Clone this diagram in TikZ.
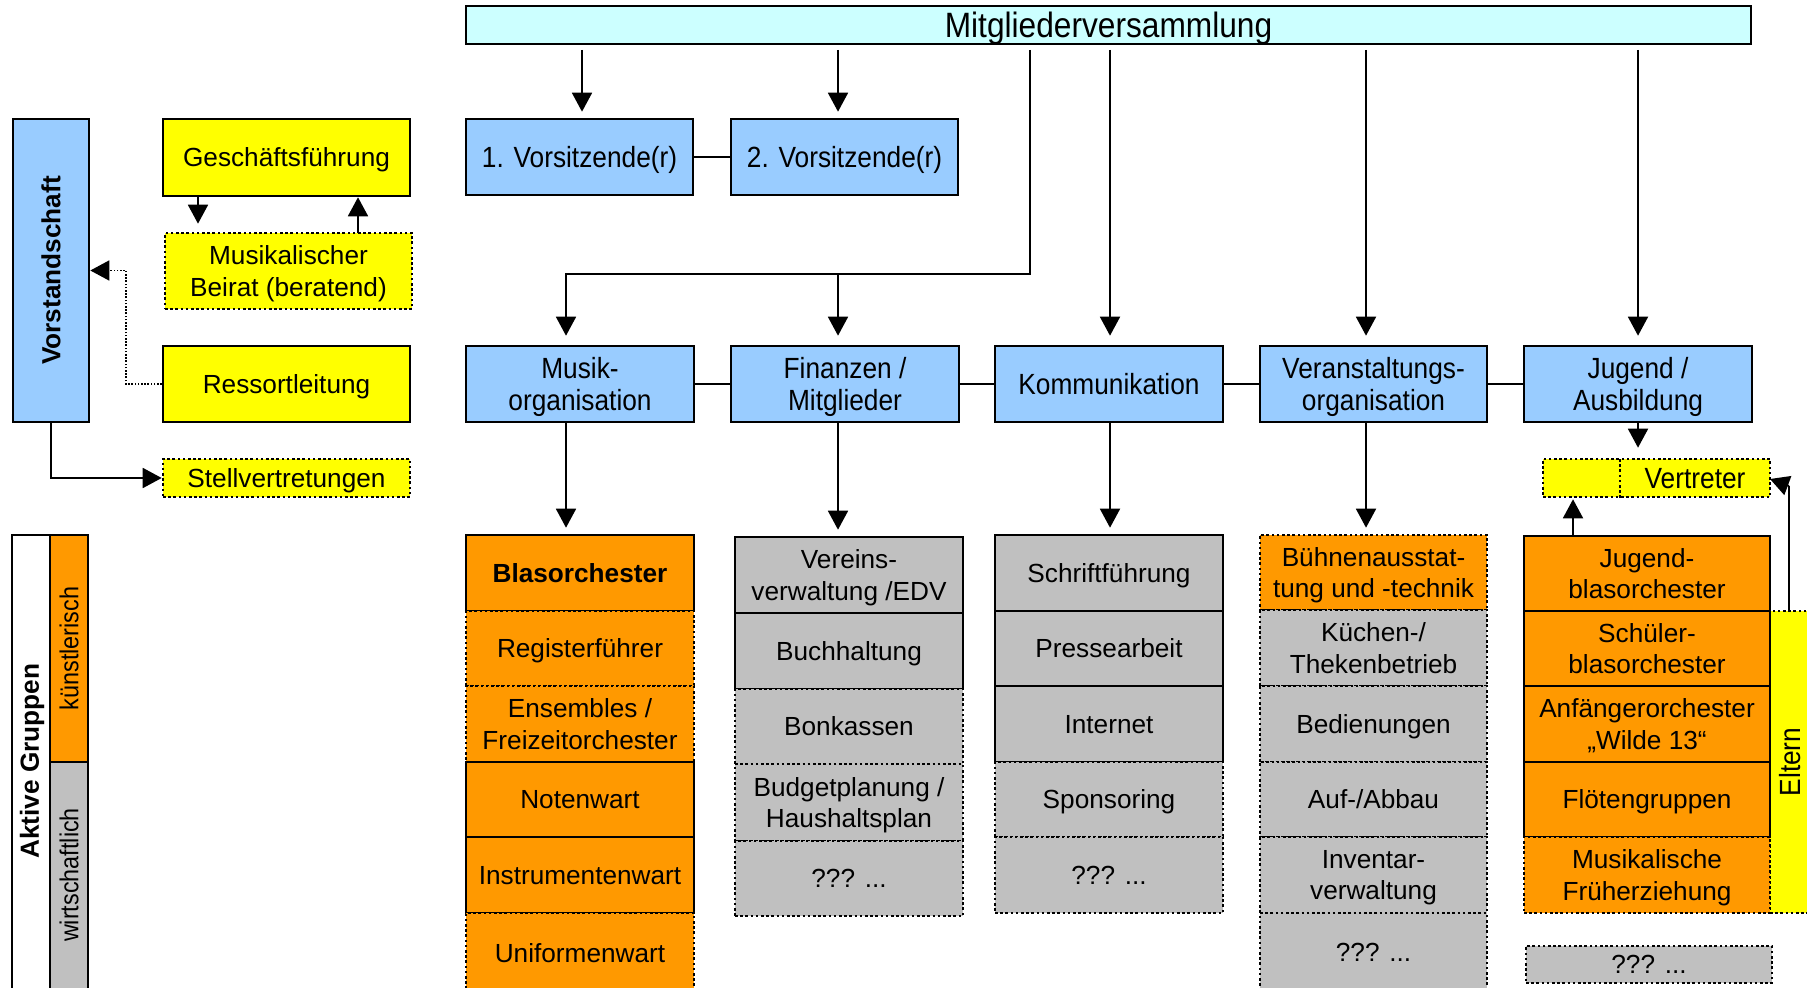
\documentclass[tikz,border=0pt]{standalone}
\usepackage{fontspec}
\setmainfont{Liberation Sans}
\newfontfamily\narrowfont[FakeStretch=0.9]{Liberation Sans}
\usetikzlibrary{arrows.meta}
\definecolor{cBlue}{HTML}{99CCFF}
\definecolor{cCyan}{HTML}{CCFFFF}
\definecolor{cYel}{HTML}{FFFF00}
\definecolor{cOr}{HTML}{FF9900}
\definecolor{cGray}{HTML}{C0C0C0}
\tikzset{
  bx/.style={draw=black, line width=1.3pt, inner sep=0pt, align=center, text depth=0pt,
             font=\fontsize{13.1}{15.65}\selectfont},
  nbx/.style={bx, font=\narrowfont\fontsize{14.6}{16.35}\selectfont},
  dt/.style={dash pattern=on 1.3pt off 1.3pt},
  bfnt/.style={font=\bfseries\fontsize{13.1}{15.65}\selectfont},
  nfnt/.style={font=\narrowfont\fontsize{14.6}{16.35}\selectfont},
  sfnt/.style={font=\narrowfont\fontsize{13}{15}\selectfont},
  ln/.style={line width=0.9pt},
  conn/.style={line width=0.9pt, -{Triangle[width=10pt,length=9.5pt]}},
  dconn/.style={line width=0.8pt, dash pattern=on 0.8pt off 0.8pt, -{Triangle[width=10pt,length=9.5pt]}}
}
\newcommand\rbox[7]{%
  \pgfmathsetmacro\myCx{(#3+#5)/2}\pgfmathsetmacro\myCy{(#4+#6)/2}%
  \pgfmathsetmacro\myWw{(#5-#3)*0.5}\pgfmathsetmacro\myHh{(#6-#4)*0.5}%
  \node[#2, minimum width=\myWw pt, minimum height=\myHh pt] (#1) at (\myCx,\myCy) {#7};}
\begin{document}
\begin{tikzpicture}[x=0.5pt,y=-0.5pt]
\useasboundingbox (0,0) rectangle (1807,988);

% top
\rbox{mv}{bx,fill=cCyan,line width=1pt,font=\narrowfont\fontsize{17.6}{20}\selectfont}{466}{6}{1751}{44}{Mitgliederversammlung}
\rbox{vA}{nbx,fill=cBlue}{466}{119}{693}{195}{1. Vorsitzende(r)}
\rbox{vB}{nbx,fill=cBlue}{731}{119}{958}{195}{2. Vorsitzende(r)}

% row
\rbox{musik}{nbx,fill=cBlue}{466}{346}{694}{422}{Musik-\\organisation}
\rbox{fin}{nbx,fill=cBlue}{731}{346}{959}{422}{Finanzen /\\Mitglieder}
\rbox{kom}{nbx,fill=cBlue}{995}{346}{1223}{422}{Kommunikation}
\rbox{ver}{nbx,fill=cBlue}{1260}{346}{1487}{422}{Veranstaltungs-\\organisation}
\rbox{jug}{nbx,fill=cBlue}{1524}{346}{1752}{422}{Jugend /\\Ausbildung}

% left
\rbox{vorst}{bx,fill=cBlue}{13}{119}{89}{422}{}
\node[rotate=90,bfnt] (vorstT) at (vorst.center) {Vorstandschaft};
\rbox{gf}{bx,fill=cYel}{163}{119}{410}{196}{Geschäftsführung}
\rbox{beirat}{bx,dt,fill=cYel}{165}{233}{412}{309}{Musikalischer\\Beirat (beratend)}
\rbox{ressort}{bx,fill=cYel}{163}{346}{410}{422}{Ressortleitung}
\rbox{stell}{bx,dt,fill=cYel}{163}{459}{410}{497}{Stellvertretungen}

\rbox{aktiv}{bx,line width=1pt,fill=white}{12}{535}{50}{1000}{}
\node[rotate=90,bfnt] (aktivT) at (32,761) {Aktive Gruppen};
\rbox{kuen}{bx,line width=1pt,fill=cOr}{50}{535}{88}{762}{}
\node[rotate=90,sfnt] (kuenT) at (kuen.center) {künstlerisch};
\rbox{wirt}{bx,line width=1pt,fill=cGray}{50}{762}{88}{1000}{}
\node[rotate=90,sfnt] (wirtT) at (69,875) {wirtschaftlich};

% Musik column
\rbox{blas}{bx,fill=cOr,bfnt}{466}{535}{694}{611}{Blasorchester}
\rbox{reg}{bx,dt,fill=cOr}{466}{611}{694}{686}{Registerführer}
\rbox{ens}{bx,dt,fill=cOr}{466}{686}{694}{762}{Ensembles /\\Freizeitorchester}
\rbox{noten}{bx,fill=cOr}{466}{762}{694}{837}{Notenwart}
\rbox{instr}{bx,fill=cOr}{466}{837}{694}{913}{Instrumentenwart}
\rbox{unif}{bx,dt,fill=cOr}{466}{913}{694}{992}{Uniformenwart}

% Finanzen column
\rbox{vereins}{bx,fill=cGray}{735}{537}{963}{613}{Vereins-\\verwaltung /EDV}
\rbox{buch}{bx,fill=cGray}{735}{613}{963}{689}{Buchhaltung}
\rbox{bon}{bx,dt,fill=cGray}{735}{689}{963}{764}{Bonkassen}
\rbox{budget}{bx,dt,fill=cGray}{735}{764}{963}{841}{Budgetplanung /\\Haushaltsplan}
\rbox{finq}{bx,dt,fill=cGray}{735}{841}{963}{916}{??? ...}

% Kommunikation column
\rbox{schrift}{bx,fill=cGray}{995}{535}{1223}{611}{Schriftführung}
\rbox{presse}{bx,fill=cGray}{995}{611}{1223}{686}{Pressearbeit}
\rbox{internet}{bx,fill=cGray}{995}{686}{1223}{762}{Internet}
\rbox{sponsor}{bx,dt,fill=cGray}{995}{762}{1223}{837}{Sponsoring}
\rbox{komq}{bx,dt,fill=cGray}{995}{837}{1223}{913}{??? ...}

% Veranstaltung column
\rbox{buehne}{bx,dt,fill=cOr}{1260}{535}{1487}{610}{Bühnenausstat-\\tung und -technik}
\rbox{kuech}{bx,dt,fill=cGray}{1260}{610}{1487}{686}{Küchen-/\\Thekenbetrieb}
\rbox{bedien}{bx,dt,fill=cGray}{1260}{686}{1487}{762}{Bedienungen}
\rbox{aufab}{bx,dt,fill=cGray}{1260}{762}{1487}{837}{Auf-/Abbau}
\rbox{invent}{bx,dt,fill=cGray}{1260}{837}{1487}{913}{Inventar-\\verwaltung}
\rbox{verq}{bx,dt,fill=cGray}{1260}{913}{1487}{992}{??? ...}

% Jugend column
\rbox{eltern}{bx,dt,fill=cYel}{1770}{611}{1814}{913}{}
\node[rotate=90,nfnt] (elternT) at (1790,762) {Eltern};
\rbox{jbo}{bx,fill=cOr}{1524}{536}{1770}{611}{Jugend-\\blasorchester}
\rbox{sbo}{bx,fill=cOr}{1524}{611}{1770}{686}{Schüler-\\blasorchester}
\rbox{anf}{bx,fill=cOr}{1524}{686}{1770}{762}{Anfängerorchester\\„Wilde 13“}
\rbox{floete}{bx,fill=cOr}{1524}{762}{1770}{837}{Flötengruppen}
\rbox{mfe}{bx,dt,fill=cOr}{1524}{837}{1770}{913}{Musikalische\\Früherziehung}
\rbox{jugq}{bx,dt,fill=cGray}{1526}{946}{1772}{983}{??? ...}

\rbox{vert}{bx,dt,fill=cYel}{1543}{459}{1770}{497}{}
\coordinate (vd1) at (1620,459);
\draw[line width=1.3pt,dt] (vd1) -- (vd1 |- vert.south);
\node[nfnt,text depth=0pt] (vertT) at (1695,478) {Vertreter};

% connectors
\coordinate (m1) at (582,50);
\coordinate (m2) at (838,50);
\coordinate (m3) at (1030,50);
\coordinate (m4) at (1110,50);
\coordinate (m5) at (1366,50);
\coordinate (m6) at (1638,50);
\coordinate (j1) at (1030,274);
\coordinate (j2) at (566,274);

\draw[conn,shorten >=3pt] (m1) -- (m1 |- vA.north);
\draw[conn,shorten >=3pt] (m2) -- (m2 |- vB.north);
\draw[conn,shorten >=4.5pt] (m3) -- (j1) -- (j2) -- (j2 |- musik.north);
\draw[conn,shorten >=4.5pt] (j1 -| m2) -- (m2 |- fin.north);
\draw[conn,shorten >=4.5pt] (m4) -- (m4 |- kom.north);
\draw[conn,shorten >=4.5pt] (m5) -- (m5 |- ver.north);
\draw[conn,shorten >=4.5pt] (m6) -- (m6 |- jug.north);

\draw[ln] (vA.east) -- (vB.west);
\draw[ln] (musik.east) -- (fin.west);
\draw[ln] (fin.east) -- (kom.west);
\draw[ln] (kom.east) -- (ver.west);
\draw[ln] (ver.east) -- (jug.west);

\draw[conn,shorten >=3pt] (j2 |- musik.south) -- (j2 |- blas.north);
\draw[conn,shorten >=3pt] (m2 |- fin.south) -- (m2 |- vereins.north);
\draw[conn,shorten >=3pt] (m4 |- kom.south) -- (m4 |- schrift.north);
\draw[conn,shorten >=3pt] (m5 |- ver.south) -- (m5 |- buehne.north);
\draw[conn,shorten >=5pt] (m6 |- jug.south) -- (m6 |- vert.north);

\coordinate (u1) at (1573,536);
\draw[conn,shorten >=0.5pt] (u1) -- (u1 |- vert.south);
\coordinate (e1) at (1789,486);
\coordinate (e2) at (1770,479);
\draw[ln] (e1 |- eltern.north) -- (e1);
\draw[conn] (e1) -- (e2);

% left connectors
\coordinate (g1) at (198,196);
\coordinate (g2) at (358,233);
\draw[conn,shorten >=4pt] (g1) -- (g1 |- beirat.north);
\draw[conn] (g2) -- (g2 |- gf.south);
\coordinate (r1) at (126,384);
\draw[dconn] (ressort.west) -- (r1) |- (vorst.east);
\draw[conn] (vorst.south) |- (stell.west);
\end{tikzpicture}
\end{document}
